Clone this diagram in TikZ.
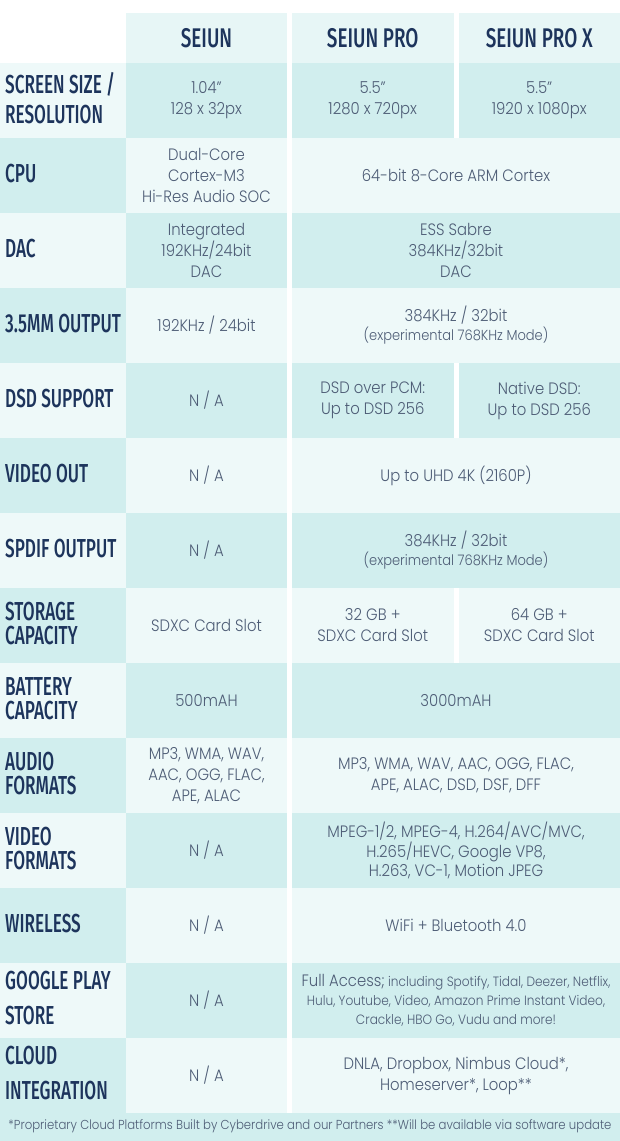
\documentclass[tikz,border=0pt]{standalone}
\usepackage{fontspec}
\setmainfont[FakeStretch=0.9]{Poppins Light}
\newfontfamily\titre[FakeStretch=0.7]{Fira Sans Medium}
\newfontfamily\rubriques[FakeStretch=0.66]{Fira Sans Medium}
\definecolor{sombre}{RGB}{209,238,238}
\definecolor{clair}{RGB}{238,249,249}
\definecolor{entete}{RGB}{231,246,246}
\definecolor{marine}{RGB}{29,52,92}
\definecolor{ardoise}{RGB}{78,93,118}

\begin{document}
\begin{tikzpicture}[x=1pt,y=-1pt]
% Styles
\tikzstyle{titre}=[text=marine,font=\titre\fontsize{27}{25}\selectfont,inner sep=0pt]
\tikzstyle{rubrique}=[titre,font=\rubriques\fontsize{26}{24}\selectfont,anchor=west,align=left,yshift=2pt]
\tikzstyle{valeur}=[text=ardoise,font=\fontsize{16.5}{21}\selectfont,align=center,inner sep=0pt]
\tikzstyle{petit}=[valeur,font=\fontsize{14.5}{19}\selectfont]
% Dimensions
\def\Ht{75}
\def\Hh{13}
\def\Hb{63}
\def\Hf{1113}
% Colonnes
\def\Ca{126}
\def\Cb{287}
\def\Cc{292}
\def\Cd{453.5}
\def\Ce{458.5}
\def\Cf{620}
% Centres des colonnes
\def\Xl{5}
\def\Xa{206.5}
\def\Xb{372.75}
\def\Xc{539.25}
\def\Xm{456}
\useasboundingbox (0,0) rectangle (620,1141);
% Fonds
\fill[entete] (\Ca,\Hh) rectangle (\Cf,\Hb);
\fill[sombre] (0,\Hb) rectangle (\Ca,\Hf);
\fill[clair] (\Ca,\Hb) rectangle (\Cf,\Hf);
\fill[clair] (0,{\Hb+0*\Ht}) rectangle (\Ca,{\Hb+1*\Ht});
\fill[sombre] (\Ca,{\Hb+0*\Ht}) rectangle (\Cf,{\Hb+1*\Ht});
\fill[clair] (0,{\Hb+2*\Ht}) rectangle (\Ca,{\Hb+3*\Ht});
\fill[sombre] (\Ca,{\Hb+2*\Ht}) rectangle (\Cf,{\Hb+3*\Ht});
\fill[clair] (0,{\Hb+4*\Ht}) rectangle (\Ca,{\Hb+5*\Ht});
\fill[sombre] (\Ca,{\Hb+4*\Ht}) rectangle (\Cf,{\Hb+5*\Ht});
\fill[clair] (0,{\Hb+6*\Ht}) rectangle (\Ca,{\Hb+7*\Ht});
\fill[sombre] (\Ca,{\Hb+6*\Ht}) rectangle (\Cf,{\Hb+7*\Ht});
\fill[clair] (0,{\Hb+8*\Ht}) rectangle (\Ca,{\Hb+9*\Ht});
\fill[sombre] (\Ca,{\Hb+8*\Ht}) rectangle (\Cf,{\Hb+9*\Ht});
\fill[clair] (0,{\Hb+10*\Ht}) rectangle (\Ca,{\Hb+11*\Ht});
\fill[sombre] (\Ca,{\Hb+10*\Ht}) rectangle (\Cf,{\Hb+11*\Ht});
\fill[clair] (0,{\Hb+12*\Ht}) rectangle (\Ca,{\Hb+13*\Ht});
\fill[sombre] (\Ca,{\Hb+12*\Ht}) rectangle (\Cf,{\Hb+13*\Ht});
\fill[sombre] (0,\Hf) rectangle (\Cf,1141);
% Separateurs
\fill[white] (\Cb,\Hh) rectangle (\Cc,\Hf);
\fill[white] (\Cd,\Hh) rectangle (\Ce,{\Hb+1*\Ht});
\fill[white] (\Cd,{\Hb+4*\Ht}) rectangle (\Ce,{\Hb+5*\Ht});
\fill[white] (\Cd,{\Hb+7*\Ht}) rectangle (\Ce,{\Hb+8*\Ht});
% En-tete
\node[titre] (seiun) at (\Xa,38) {SEIUN};
\node[titre] (seiunpro) at (\Xb,38) {SEIUN PRO};
\node[titre] (seiunprox) at (\Xc,38) {SEIUN PRO X};
% Rubriques
\node[rubrique] (ecran) at (\Xl,{\Hb+0.5*\Ht}) {SCREEN SIZE /\\[6pt]RESOLUTION};
\node[rubrique] (cpu) at (\Xl,{\Hb+1.5*\Ht}) {CPU};
\node[rubrique] (dac) at (\Xl,{\Hb+2.5*\Ht}) {DAC};
\node[rubrique] (sortie) at (\Xl,{\Hb+3.5*\Ht}) {3.5MM OUTPUT};
\node[rubrique] (dsd) at (\Xl,{\Hb+4.5*\Ht}) {DSD SUPPORT};
\node[rubrique] (video) at (\Xl,{\Hb+5.5*\Ht}) {VIDEO OUT};
\node[rubrique] (spdif) at (\Xl,{\Hb+6.5*\Ht}) {SPDIF OUTPUT};
\node[rubrique] (stockage) at (\Xl,{\Hb+7.5*\Ht}) {STORAGE\\CAPACITY};
\node[rubrique] (batterie) at (\Xl,{\Hb+8.5*\Ht}) {BATTERY\\CAPACITY};
\node[rubrique] (audiofmt) at (\Xl,{\Hb+9.5*\Ht}) {AUDIO\\FORMATS};
\node[rubrique] (videofmt) at (\Xl,{\Hb+10.5*\Ht}) {VIDEO\\FORMATS};
\node[rubrique] (sansfil) at (\Xl,{\Hb+11.5*\Ht}) {WIRELESS};
\node[rubrique] (google) at (\Xl,{\Hb+12.5*\Ht}) {GOOGLE PLAY\\[11pt]STORE};
\node[rubrique] (nuage) at (\Xl,{\Hb+13.5*\Ht}) {CLOUD\\[11pt]INTEGRATION};
% Ligne : ecran
\node[valeur] (ecranA) at (\Xa,{\Hb+0.5*\Ht}) {1.04”\\128 x 32px};
\node[valeur] (ecranB) at (\Xb,{\Hb+0.5*\Ht}) {5.5”\\1280 x 720px};
\node[valeur] (ecranC) at (\Xc,{\Hb+0.5*\Ht}) {5.5”\\1920 x 1080px};
% Ligne : cpu
\node[valeur] (cpuA) at (\Xa,{\Hb+1.5*\Ht}) {Dual-Core\\Cortex-M3\\Hi-Res Audio SOC};
\node[valeur] (cpuM) at (\Xm,{\Hb+1.5*\Ht}) {64-bit 8-Core ARM Cortex};
% Ligne : dac
\node[valeur] (dacA) at (\Xa,{\Hb+2.5*\Ht}) {Integrated\\192KHz/24bit\\DAC};
\node[valeur] (dacM) at (\Xm,{\Hb+2.5*\Ht}) {ESS Sabre\\384KHz/32bit\\DAC};
% Ligne : sortie 3.5mm
\node[valeur] (sortieA) at (\Xa,{\Hb+3.5*\Ht}) {192KHz / 24bit};
\node[petit] (sortieM) at (\Xm,{\Hb+3.5*\Ht}) {{\fontsize{16.5}{19}\selectfont 384KHz / 32bit}\\(experimental 768KHz Mode)};
% Ligne : dsd
\node[valeur] (dsdA) at (\Xa,{\Hb+4.5*\Ht}) {N / A};
\node[valeur] (dsdB) at (\Xb,{\Hb+4.5*\Ht}) {DSD over PCM:\\Up to DSD 256};
\node[valeur] (dsdC) at (\Xc,{\Hb+4.5*\Ht}) {Native DSD:\\Up to DSD 256};
% Ligne : sortie video
\node[valeur] (videoA) at (\Xa,{\Hb+5.5*\Ht}) {N / A};
\node[valeur] (videoM) at (\Xm,{\Hb+5.5*\Ht}) {Up to UHD 4K (2160P)};
% Ligne : spdif
\node[valeur] (spdifA) at (\Xa,{\Hb+6.5*\Ht}) {N / A};
\node[petit] (spdifM) at (\Xm,{\Hb+6.5*\Ht}) {{\fontsize{16.5}{19}\selectfont 384KHz / 32bit}\\(experimental 768KHz Mode)};
% Ligne : stockage
\node[valeur] (stockageA) at (\Xa,{\Hb+7.5*\Ht}) {SDXC Card Slot};
\node[valeur] (stockageB) at (\Xb,{\Hb+7.5*\Ht}) {32 GB +\\SDXC Card Slot};
\node[valeur] (stockageC) at (\Xc,{\Hb+7.5*\Ht}) {64 GB +\\SDXC Card Slot};
% Ligne : batterie
\node[valeur] (batterieA) at (\Xa,{\Hb+8.5*\Ht}) {500mAH};
\node[valeur] (batterieM) at (\Xm,{\Hb+8.5*\Ht}) {3000mAH};
% Ligne : formats audio
\node[valeur] (audioA) at (\Xa,{\Hb+9.5*\Ht}) {MP3, WMA, WAV,\\AAC, OGG, FLAC,\\APE, ALAC};
\node[valeur] (audioM) at (\Xm,{\Hb+9.5*\Ht}) {MP3, WMA, WAV, AAC, OGG, FLAC,\\APE, ALAC, DSD, DSF, DFF};
% Ligne : formats video
\node[valeur] (vfmtA) at (\Xa,{\Hb+10.5*\Ht}) {N / A};
\node[valeur,font=\fontsize{16.5}{19.5}\selectfont] (vfmtM) at (\Xm,{\Hb+10.5*\Ht}) {MPEG-1/2, MPEG-4, H.264/AVC/MVC,\\H.265/HEVC, Google VP8,\\H.263, VC-1, Motion JPEG};
% Ligne : sans fil
\node[valeur] (sansfilA) at (\Xa,{\Hb+11.5*\Ht}) {N / A};
\node[valeur] (sansfilM) at (\Xm,{\Hb+11.5*\Ht}) {WiFi + Bluetooth 4.0};
% Ligne : google play
\node[valeur,font=\fontsize{13.5}{19}\selectfont] (googleM) at (\Xm,{\Hb+12.5*\Ht}) {{\fontsize{16.5}{19}\selectfont Full Access;} including Spotify, Tidal, Deezer, Netflix,\\Hulu, Youtube, Video, Amazon Prime Instant Video,\\Crackle, HBO Go, Vudu and more!};
\node[valeur] (googleA) at (\Xa,{\Hb+12.5*\Ht}) {N / A};
% Ligne : nuage
\node[valeur] (nuageA) at (\Xa,{\Hb+13.5*\Ht}) {N / A};
\node[valeur] (nuageM) at (\Xm,{\Hb+13.5*\Ht}) {DNLA, Dropbox, Nimbus Cloud*,\\Homeserver*, Loop**};
% Note
\node[valeur,font=\fontsize{13}{14}\selectfont] (note) at (310,1126) {*Proprietary Cloud Platforms Built by Cyberdrive and our Partners **Will be available via software update};
\end{tikzpicture}
\end{document}
